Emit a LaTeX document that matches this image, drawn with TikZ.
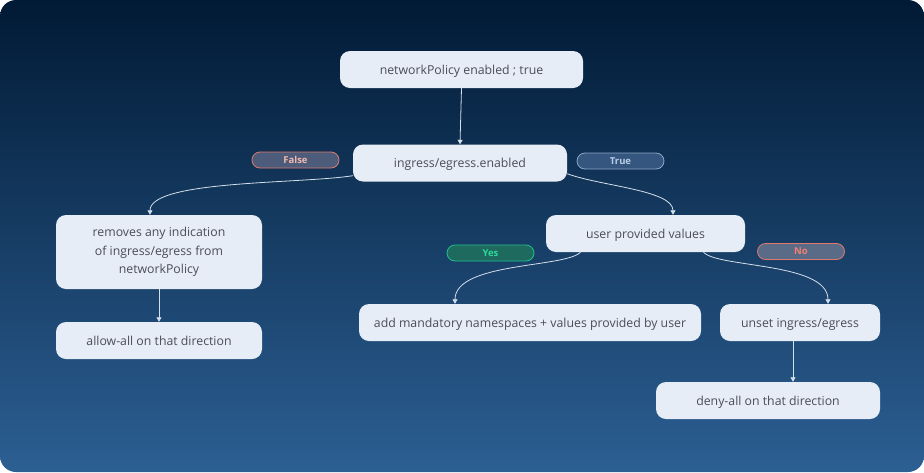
\documentclass[tikz,border=0pt]{standalone}
\usepackage{fontspec}
\setmainfont{Open Sans}
\usepackage{tikz}
\usetikzlibrary{positioning,calc,arrows.meta}

\definecolor{bgtop}{HTML}{011A35}
\definecolor{bgbottom}{HTML}{2C5F93}
\definecolor{boxfill}{HTML}{E6EDF6}
\definecolor{boxtext}{HTML}{4A4D57}
\definecolor{edgecol}{HTML}{D5DFEB}
\definecolor{falsefill}{HTML}{4D5C7A}
\definecolor{falsedraw}{HTML}{D97B6E}
\definecolor{falsetext}{HTML}{F2B9B0}
\definecolor{truefill}{HTML}{35567F}
\definecolor{truedraw}{HTML}{8DA6C6}
\definecolor{truetext}{HTML}{BCCFE8}
\definecolor{yesfill}{HTML}{1E6A5F}
\definecolor{yesdraw}{HTML}{22C08A}
\definecolor{yestext}{HTML}{2ED99B}
\definecolor{nofill}{HTML}{5A6B88}
\definecolor{nodraw}{HTML}{E07A6A}
\definecolor{notext}{HTML}{F2806F}

\begin{document}
\begin{tikzpicture}[x=1pt, y=-1pt,
        flowbox/.style={rectangle, rounded corners=10pt, fill=boxfill, text=boxtext,
            minimum height=37pt, inner sep=0pt, font=\fontsize{12.3}{18.5}\selectfont, align=center},
        linebox/.style={flowbox, text height=12.5pt, text depth=2.6pt},
        pill/.style={rectangle, rounded corners=8pt, minimum width=87pt, minimum height=16pt,
            inner sep=0pt, line width=0.8pt, font=\fontsize{9.5}{10}\selectfont\bfseries},
        falsepill/.style={pill, fill=falsefill, draw=falsedraw, text=falsetext},
        truepill/.style={pill, fill=truefill, draw=truedraw, text=truetext},
        yespill/.style={pill, fill=yesfill, draw=yesdraw, text=yestext},
        nopill/.style={pill, fill=nofill, draw=nodraw, text=notext},
        flow/.style={draw=edgecol, line width=0.8pt, -{Triangle[width=5pt,length=4.5pt]}}
    ]

    % Background
    \fill[white] (0,0) rectangle (924,472);
    \shade[top color=bgtop, bottom color=bgbottom, rounded corners=16pt] (0,0) rectangle (924,472);
    \useasboundingbox (0,0) rectangle (924,472);

    % Nodes
    \node[linebox, minimum width=243pt] (np) at (461.5,69.5) {networkPolicy enabled ; true};
    \node[linebox, minimum width=214pt] (ie) at (460,163) {ingress/egress.enabled};
    \node[flowbox, minimum width=206pt, minimum height=74pt] (rm) at (159,252) {removes any indication\\of ingress/egress from\\networkPolicy};
    \node[linebox, minimum width=206pt] (allow) at (159,340.5) {allow-all on that direction};
    \node[linebox, minimum width=199pt] (upv) at (645.5,233.5) {user provided values};
    \node[linebox, minimum width=342pt] (add) at (530,322.5) {add mandatory namespaces + values provided by user};
    \node[linebox, minimum width=160pt] (unset) at (800,322.5) {unset ingress/egress};
    \node[linebox, minimum width=224pt] (deny) at (768,400.5) {deny-all on that direction};

    \node[falsepill] (lfalse) at (295.5,160) {False};
    \node[truepill] (ltrue) at (620.5,161) {True};
    \node[yespill] (lyes) at (490.5,253) {Yes};
    \node[nopill] (lno) at (801,251.5) {No};

    % Edges
    \draw[flow] (np.south) -- (ie.north);
    \draw[flow] ([yshift=6pt]ie.south west) .. controls (300,184) and (150,180) .. ([xshift=-9pt]rm.north);
    \draw[flow] ([yshift=8pt]ie.south east) .. controls (600,186) and (673,190) .. ([xshift=-127pt]unset.north |- upv.north);
    \draw[flow] ([xshift=-65pt]upv.south) .. controls (565,268) and (455,262) .. ([xshift=-75pt]add.north);
    \draw[flow] ([xshift=58pt]upv.south) .. controls (718,268) and (828,262) .. ([xshift=28pt]unset.north);
    \draw[flow] (rm.south) -- (allow.north);
    \draw[flow] ([xshift=-7pt]unset.south) -- ([xshift=25pt]deny.north);
    \end{tikzpicture}
\end{document}
